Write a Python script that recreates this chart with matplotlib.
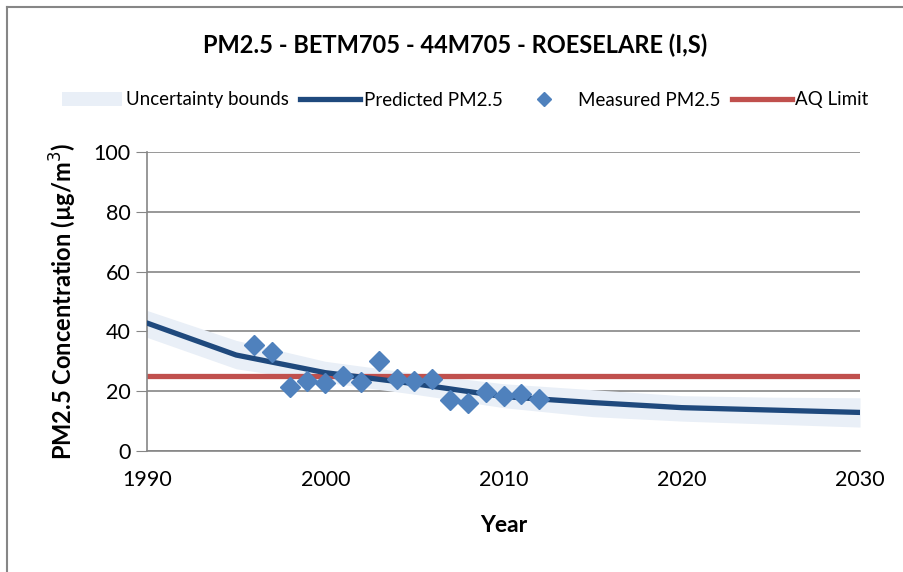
import matplotlib.pyplot as plt
from matplotlib.lines import Line2D
from matplotlib.patches import Patch

# measured values
meas_years = [1996, 1997, 1998, 1999, 2000, 2001, 2002, 2003, 2004, 2005, 2006,
              2007, 2008, 2009, 2010, 2011, 2012]
meas_pm = [35.4, 33.1, 21.4, 23.4, 22.7, 25.1, 23.1, 30.1, 24.1, 23.4, 24.1,
           17.1, 16.1, 19.7, 18.4, 19.1, 17.4]

# model prediction + uncertainty band
pred_years = [1990, 1995, 2000, 2005, 2010, 2015, 2020, 2025, 2030]
pred_pm = [42.8, 32.1, 26.2, 22.5, 18.2, 16.2, 14.5, 13.7, 12.9]
upper = [47.0, 37.0, 30.0, 26.0, 22.5, 20.5, 18.5, 18.0, 17.8]
lower = [38.0, 27.5, 23.0, 19.0, 14.5, 11.5, 10.0, 9.0, 8.0]

aq_years = [1990, 2030]
aq_limit = [25, 25]

plt.rcParams['font.family'] = ['Lato', 'DejaVu Sans']

fig = plt.figure(figsize=(9.04, 5.72), dpi=100)
ax = fig.add_axes([147 / 904, 1 - 451 / 572, 713 / 904, 299 / 572])

ax.fill_between(pred_years, lower, upper, color='#E9EFF7', lw=0, zorder=1)
ax.plot(aq_years, aq_limit, color='#C0504D', lw=3.8, solid_capstyle='round', zorder=2)
ax.plot(pred_years, pred_pm, color='#1F497D', lw=3.8, solid_capstyle='round', zorder=3)
ax.plot(meas_years, meas_pm, 'D', color='#4F81BD', ms=10, mec='#4F81BD', zorder=4)

ax.set_xlim(1990, 2030)
ax.set_ylim(0, 100)
ax.set_xticks([1990, 2000, 2010, 2020, 2030])
ax.set_yticks([0, 20, 40, 60, 80, 100])
ax.grid(axis='y', color='#868686', lw=1.2)
ax.set_axisbelow(True)
for s in ['top', 'right']:
    ax.spines[s].set_visible(False)
for s in ['left', 'bottom']:
    ax.spines[s].set_color('#868686')
    ax.spines[s].set_linewidth(1.2)
ax.tick_params(axis='y', length=8, color='#868686', labelsize=15.5, pad=4)
ax.tick_params(axis='x', length=0, labelsize=15.5, pad=14)

ax.set_ylabel('PM2.5 Concentration (µg/m$^3$)', fontsize=17, fontweight='bold', labelpad=10)
ax.set_xlabel('Year', fontsize=16.5, fontweight='bold', labelpad=18)

fig.text(0.503, 1 - 45 / 572, 'PM2.5 - BETM705 - 44M705 - ROESELARE (I,S)',
         ha='center', va='center', fontsize=17, fontweight='bold')

handles = [
    Patch(facecolor='#E9EFF7', edgecolor='none'),
    Line2D([], [], color='#1F497D', lw=3.8),
    Line2D([], [], ls='none', marker='D', color='#4F81BD', ms=7),
    Line2D([], [], color='#C0504D', lw=3.8),
]
labels = ['Uncertainty bounds', 'Predicted PM2.5', 'Measured PM2.5', 'AQ Limit']
fig.legend(handles, labels, loc='center', bbox_to_anchor=(0.515, 1 - 100 / 572),
           ncol=4, frameon=False, fontsize=13.5, handlelength=3.2,
           handletextpad=0.2, columnspacing=0.6)

# outer chart frame (left and top edges visible)
fig.add_artist(Line2D([7 / 904, 7 / 904], [0, 1 - 7 / 572], color='#868686', lw=1.5))
fig.add_artist(Line2D([7 / 904, 1], [1 - 7 / 572, 1 - 7 / 572], color='#868686', lw=1.5))

fig.savefig('out.png', dpi=100)
